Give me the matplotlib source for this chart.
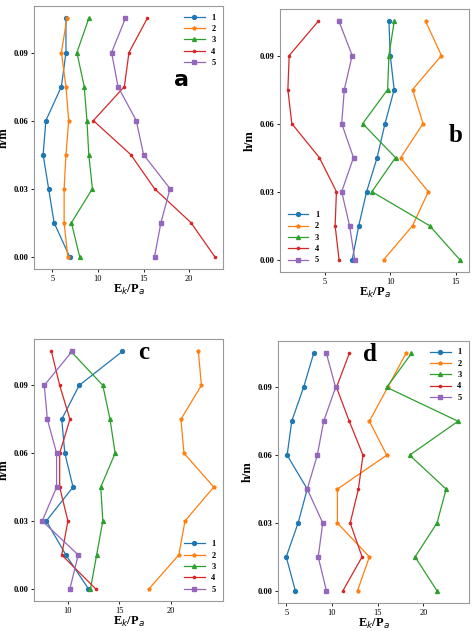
import matplotlib
matplotlib.use("Agg")
import matplotlib.pyplot as plt

heights = [0.0, 0.015, 0.03, 0.045, 0.06, 0.075, 0.09, 0.105]
series_labels = ["1", "2", "3", "4", "5"]

a_vals = [
    [6.9, 5.2, 4.6, 4.0, 4.3, 6.0, 6.5, 6.5],
    [6.7, 6.3, 6.3, 6.5, 6.8, 6.5, 6.0, 6.6],
    [8.0, 7.1, 9.4, 9.0, 8.8, 8.5, 7.7, 9.0],
    [22.8, 20.2, 16.2, 13.6, 9.5, 12.9, 13.4, 15.4],
    [16.2, 16.9, 17.9, 15.0, 14.2, 12.2, 11.5, 13.0],
]
b_vals = [
    [7.1, 7.6, 8.2, 9.0, 9.6, 10.3, 10.0, 9.9],
    [9.5, 11.7, 12.9, 10.8, 12.5, 11.7, 13.9, 12.7],
    [15.3, 13.0, 8.6, 10.4, 7.9, 9.8, 9.9, 10.3],
    [6.1, 5.8, 5.9, 4.6, 2.5, 2.2, 2.3, 4.5],
    [7.3, 6.9, 6.3, 7.2, 6.3, 6.5, 7.1, 6.1],
]
c_vals = [
    [12.0, 9.8, 7.9, 10.5, 9.7, 9.4, 11.1, 15.3],
    [17.9, 20.8, 21.4, 24.2, 21.3, 21.0, 23.0, 22.7],
    [12.2, 12.8, 13.4, 13.2, 14.6, 14.1, 13.4, 10.3],
    [12.7, 9.4, 10.0, 9.2, 9.2, 10.2, 9.2, 8.4],
    [10.2, 11.0, 7.5, 8.9, 8.9, 8.0, 7.7, 10.4],
]
d_vals = [
    [6.0, 5.0, 6.3, 7.3, 5.1, 5.6, 6.9, 8.0],
    [12.8, 14.1, 10.6, 10.6, 16.0, 14.1, 16.1, 18.1],
    [21.5, 19.1, 21.5, 22.5, 18.5, 23.8, 16.0, 18.7],
    [11.2, 13.3, 12.0, 12.9, 13.4, 11.9, 10.5, 11.9],
    [9.4, 8.5, 9.0, 7.3, 8.4, 9.1, 10.4, 9.4],
]

colors = ["#1f77b4", "#ff7f0e", "#2ca02c", "#d62728", "#9467bd"]
markers = ["o", "p", "^", ".", "s"]
msizes = [2.8, 2.3, 2.8, 3.2, 2.8]

plt.rcParams['font.family'] = ['Liberation Serif', 'DejaVu Serif']
W, H = 474, 631
fig = plt.figure(figsize=(W/100, H/100), dpi=100)

panels = [
    ("a", a_vals, (34, 6, 223, 269), (3.0, 23.7), [5, 10, 15, 20], "upper right", (0.78, 0.72), True),
    ("b", b_vals, (280, 9, 469, 272), (1.6, 16.0), [5, 10, 15], "lower left", (0.93, 0.52), False),
    ("c", c_vals, (34, 339, 223, 601), (6.7, 25.1), [10, 15, 20], "lower right", (0.58, 0.95), False),
    ("d", d_vals, (278, 341, 469, 603), (4.1, 25.0), [5, 10, 15, 20], "upper right", (0.48, 0.95), False),
]

for name, vals, (x0, y0, x1, y1), xl, xt, legloc, lblpos, sans in panels:
    ax = fig.add_axes([x0/W, 1 - y1/H, (x1-x0)/W, (y1-y0)/H])
    for i in range(5):
        ax.plot(vals[i], heights, color=colors[i], marker=markers[i], ms=msizes[i],
                lw=0.9, label=series_labels[i])
    ax.set_xlim(*xl)
    ax.set_ylim(-0.0054, 0.1105)
    ax.set_xticks(xt)
    ax.set_yticks([0.0, 0.03, 0.06, 0.09])
    ax.set_yticklabels(["0.00", "0.03", "0.06", "0.09"])
    for lab in ax.get_yticklabels():
        lab.set_fontweight("bold")
    ax.tick_params(labelsize=6, length=2.5, width=0.6, pad=1.5)
    for s in ax.spines.values():
        s.set_color("#999999")
    ax.set_xlabel(r"E$_k$/P$_a$", fontsize=9, fontweight="bold", labelpad=0)
    ax.set_ylabel("h/m", fontsize=9, fontweight="bold", labelpad=1)
    ax.yaxis.set_label_coords(-24 / (x1 - x0), 0.5)
    ax.legend(loc=legloc, frameon=False, handlelength=2.5,
              labelspacing=0.4, prop={'weight': 'bold', 'size': 6})
    if sans:
        ax.text(*lblpos, name, transform=ax.transAxes, fontsize=16, fontweight="bold",
                family="DejaVu Sans", ha="center", va="center")
    else:
        ax.text(*lblpos, name, transform=ax.transAxes, fontsize=18, fontweight="bold",
                ha="center", va="center")

fig.savefig("out.png", dpi=100)
